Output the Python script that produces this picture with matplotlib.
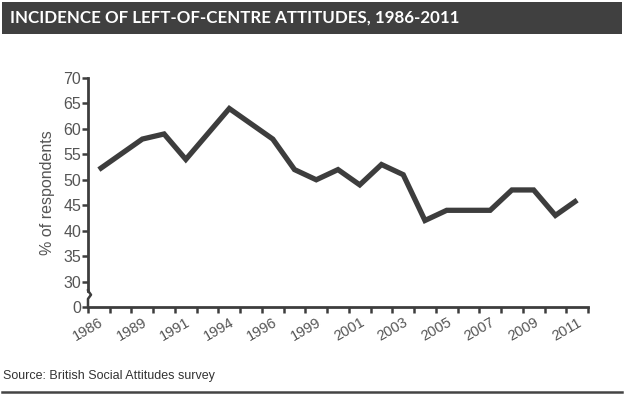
import matplotlib.pyplot as plt
from matplotlib.patches import Rectangle
from matplotlib.lines import Line2D
import matplotlib.transforms as mtransforms

plt.rcParams['font.family'] = ['Liberation Sans', 'DejaVu Sans']

# survey years (BSA was not run every year)
years = [1986, 1987, 1989, 1990, 1991, 1993, 1994, 1995, 1996, 1998, 1999, 2000,
         2001, 2002, 2003, 2004, 2005, 2006, 2007, 2008, 2009, 2010, 2011]
values = [52, 55, 58, 59, 54, 59, 64, 61, 58, 52, 50, 52,
          49, 53, 51, 42, 44, 44, 44, 48, 48, 43, 46]
ytick_vals = [25, 30, 35, 40, 45, 50, 55, 60, 65, 70]
ytick_labels = ['0', '30', '35', '40', '45', '50', '55', '60', '65', '70']

dark = '#3d3d3d'
grey = '#555555'

fig = plt.figure(figsize=(6.26, 3.95), dpi=100)
fig.patch.set_facecolor('white')

# title bar
fig.patches.append(Rectangle((2 / 626, 1 - 34 / 395), 620 / 626, 32 / 395,
                             transform=fig.transFigure, facecolor='#404040',
                             edgecolor='none'))
fig.text(10 / 626, 1 - 18 / 395, 'INCIDENCE OF LEFT-OF-CENTRE ATTITUDES, 1986-2011',
         color='white', fontsize=12.2, fontweight='bold', va='center', ha='left',
         family=['Lato', 'DejaVu Sans'])

ax = fig.add_axes([88 / 626, 88 / 395, 500 / 626, 229 / 395])
x = list(range(len(years)))
ax.plot(x, values, color=dark, lw=3.8, solid_joinstyle='miter', solid_capstyle='butt')

ax.set_xlim(-0.5, len(years) - 0.5)
ax.set_ylim(25, 70)

ax.set_xticks([i - 0.5 for i in range(len(years) + 1)])
ax.set_xticklabels([])
ax.set_xticks(x[::2], minor=True)
ax.set_xticklabels([str(years[i]) for i in x[::2]], minor=True, rotation=30,
                   ha='right', va='top', rotation_mode='anchor', color=grey, fontsize=10.5)
ax.tick_params(axis='x', which='major', direction='out', length=4, width=1.8, color=dark)
ax.tick_params(axis='x', which='minor', length=0, pad=6)

ax.set_yticks(ytick_vals)
ax.set_yticklabels(ytick_labels, color=grey, fontsize=11.5)
ax.tick_params(axis='y', direction='out', length=4, width=1.8, color=dark, pad=1)

for s in ['top', 'right']:
    ax.spines[s].set_visible(False)
for s in ['left', 'bottom']:
    ax.spines[s].set_color(dark)
    ax.spines[s].set_linewidth(2)
ax.spines['left'].set_bounds(28.2, 70)

# axis break mark
tr = mtransforms.blended_transform_factory(ax.transAxes, ax.transData)
ax.add_line(Line2D([0, 0, 0.006, 0, 0], [25, 26.6, 27.4, 28.2, 28.3], transform=tr,
                   color=dark, lw=1.8, clip_on=False))

ax.set_ylabel('% of respondents', color=grey, fontsize=11.5, labelpad=6)

fig.text(3 / 626, 1 - 376 / 395, 'Source: British Social Attitudes survey',
         color='#333333', fontsize=9, va='center', ha='left')
fig.add_artist(Line2D([2 / 626, 622 / 626], [1 - 392 / 395, 1 - 392 / 395],
                      transform=fig.transFigure, color='#444444', lw=1.8))

fig.savefig('out.png', dpi=100)
